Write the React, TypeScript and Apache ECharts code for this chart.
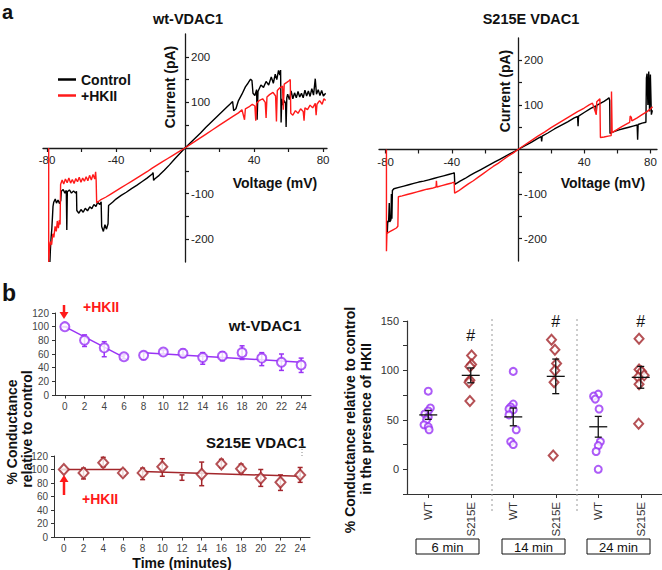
import React, { useEffect, useRef } from 'react';
import * as echarts from 'echarts';

const FONT = '"Liberation Sans", Arial, Helvetica, sans-serif';
const PURPLE = '#9933f5';
const DARKRED = '#a3262b';
const RED = '#ff1a1a';
const AXIS = '#1a1a1a';

// ---------- Panel a: I–V traces [voltage (mV), current (pA)] ----------
const wtControl = [
  [-78.3,-250],[-78,-222],[-77.6,-196],[-77.2,-178],[-76.8,-150],[-76.5,-128],[-76.1,-119],[-75.2,-112],[-74.5,-121],[-73.6,-114],[-72.7,-122],[-72,-115],
  [-71.7,-95],[-70.6,-91],[-69.6,-99],[-68.8,-93],[-68.5,-180],[-68.2,-96],[-67,-92],[-65.8,-99],[-64.6,-94],[-63.4,-99],[-62.9,-95],
  [-62.7,-137],[-61.5,-143],[-60.3,-135],[-59,-141],[-57.8,-132],[-56.5,-138],[-55.2,-129],[-54,-133],[-52.8,-124],[-51.6,-128],[-50.6,-119],[-49.4,-124],[-48.6,-118],
  [-48.3,-172],[-47.3,-183],[-46.4,-168],[-45.5,-178],[-44.6,-166],[-44.3,-126],[-42,-119],[-40,-112],[-37,-104],[-34,-97],[-31,-89],[-28,-82],[-25,-74],[-22,-66],[-19,-57],[-18.5,-54],
  [-18.2,-71],[-17.6,-68],[-15,-60],[-12,-49],[-9,-37],[-6,-24],[-3,-12],[0,0],[3,11],[6,22],[9,33],[12,45],[15,56],[18,67],[21,78],[24,89],[26,96],[27.6,102],
  [28.2,82],[29.5,86],[31,104],[33,118],[35,134],[36.5,142],[38,151],[38.8,148],[39.4,120],[40.5,115],[41.5,128],[41.8,62],[42.3,124],[44,138],[45.5,133],[47,146],[48.5,138],
  [50,156],[51.2,142],[52.3,162],[53.2,150],[54.2,170],[55,160],[55.4,171],[55.7,56],[56.1,108],[56.6,94],[57.5,104],[58.3,98],[58.6,46],[59,110],[59.5,118],[60.5,106],
  [61.5,125],[62.5,108],[63.5,121],[64.5,110],[65.5,124],[66.5,112],[67.5,120],[68.5,110],[69.5,127],[70.5,114],[71.5,125],[72.5,113],[73.5,130],[74.5,116],[75.5,152],
  [76.2,118],[77.2,128],[78.2,115],[79.2,126],[80.2,114],[81.5,120],
];
const wtHKII = [
  [-79,0],[-79,-250],[-78.6,-222],[-78,-205],[-77.3,-212],[-76.6,-188],[-76,-196],[-75.3,-172],[-74.6,-183],[-74,-160],[-73.4,-176],[-72.8,-158],[-72.4,-168],
  [-72.1,-80],[-71.2,-70],[-70.3,-79],[-69.3,-68],[-68.3,-76],[-67.3,-66],[-66.3,-77],[-65.3,-69],[-64.3,-78],[-63.3,-67],[-62.3,-74],[-61.3,-64],[-60.3,-75],[-59.3,-66],
  [-58.3,-73],[-57.3,-63],[-56.3,-72],[-55.3,-60],[-54.3,-70],[-53.3,-58],[-52.3,-68],[-51.8,-52],[-51.5,-70],[-51.2,-120],[-49,-114],[-46,-108],[-43,-101],[-40,-94],
  [-37,-87],[-34,-80],[-31,-73],[-28,-66],[-25,-59],[-22,-52],[-19,-44],[-16,-37],[-13,-30],[-10,-23],[-7,-16],[-4,-9],[0,0],[4,10],[8,20],[12,30],[16,40],[20,50],
  [24,60],[28,70],[31,77],[33,84],[34.5,62],[35,86],[37,90],[39,96],[40.5,92],[41,60],[41.5,98],[43,104],[45,108],[46.5,100],[47,66],[47.5,112],[49,117],[51,122],
  [52.5,114],[53,58],[53.5,126],[55,132],[56.5,136],[57,84],[57.5,140],[59,144],[60.5,148],[61,150],[61.3,76],[62.5,72],[64,82],[65.5,76],[67,86],[68.5,80],[69,60],
  [69.5,88],[71,84],[72.5,94],[74,88],[75.5,98],[76,72],[76.5,96],[78,104],[79.5,96],[80.5,108],[81.5,104],
];
const s215eControl = [
  [-79,-188],[-78.7,-160],[-78.2,-163],[-77.8,-120],[-77.5,-162],[-76.8,-158],[-76.5,-100],[-76.2,-155],[-75.9,-92],[-75,-88],[-72,-85],[-69,-82],[-66,-79],[-63,-76],
  [-60,-73],[-57,-71],[-54,-68],[-51,-65],[-48,-62],[-45,-59],[-42,-56],[-39,-53],[-38.5,-52],[-38.2,-78],[-35,-71],[-32,-65],[-29,-58],[-26,-52],[-23,-46],[-20,-40],
  [-17,-34],[-14,-28],[-11,-22],[-8,-16],[-5,-10],[-2,-4],[0,0],[4,8],[8,16],[12,25],[14,29],[14.3,18],[14.6,30],[18,37],[22,46],[26,54],[30,62],[34,71],[36,74],
  [36.3,52],[36.6,75],[40,83],[44,92],[47,98],[47.3,85],[47.6,99],[50,104],[52,108],[54,113],[55,116],[55.4,110],[55.6,36],[58,40],[61,44],[64,47],[67,50],[70,53],
  [72,55],[72.3,22],[72.6,56],[75,59],[77.3,61],[77.6,160],[78,170],[78.5,100],[79,175],[79.5,85],[80,168],[80.6,78],[81.2,88],
];
const s215eHKII = [
  [-79.5,0],[-79.5,-228],[-79.2,-188],[-77.5,-184],[-75.5,-180],[-73.5,-176],[-72.6,-172],[-72.3,-106],[-70,-104],[-67,-101],[-64,-98],[-61,-95],[-58,-92],[-55,-89],
  [-52,-87],[-49.5,-84],[-49.3,-70],[-49,-84],[-46,-81],[-43,-78],[-40,-75],[-38.6,-73],[-38.3,-98],[-36,-93],[-33,-85],[-30,-77],[-27,-70],[-24,-62],[-21,-54],
  [-18,-46],[-15,-38],[-12,-31],[-9,-23],[-6,-15],[-3,-8],[0,0],[4,10],[8,20],[12,30],[16,39],[20,49],[24,58],[28,67],[32,76],[36,85],[40,93],[43,100],[45,104],
  [47.3,78],[47.6,107],[49.5,114],[49.8,27],[52,28],[54.5,30],[56.3,31],[56.5,130],[56.9,38],[60,45],[63,52],[66,58],[67.5,61],[67.8,75],[68.5,72],[68.8,64],
  [72,71],[75,78],[78,85],[80,91],[81.3,96],
];
const ivXLabels = [-80, -40, 40, 80];
const ivXTicks = [-80, -60, -40, -20, 20, 40, 60, 80];
const ivYLabels = [-200, -100, 100, 200];
const ivYTicks = [-200, -150, -100, -50, 50, 100, 150, 200];

// ---------- Panel b (left): time courses ----------
const times = [0, 2, 4, 6, 8, 10, 12, 14, 16, 18, 20, 22, 24];
const timeTicks = [0, 2, 4, 6, 8, 10, 12, 14, 16, 18, 20, 22, 24];
const wtMean = [100, 80, 69, 56, 58, 63, 61, 55, 57, 62, 54, 48, 44];
const wtLow = [100, 71, 56, 53, 52, 60, 55, 45, 50, 52, 43, 36, 33];
const wtHigh = [100, 88, 78, 59, 63, 66, 67, 62, 63, 72, 62, 60, 54];
const wtFit1 = [[0, 100], [6, 55]];
const wtFit2 = [[8, 62], [24, 48]];
const s215eMean = [100, 95, 110, 95, 95, 104, null, 93, 108, 101, 87, 81, 92];
const s215eLow = [100, 86, 104, 91, 85, 90, 84, 76, 103, 95, 75, 69, 81];
const s215eHigh = [100, 102, 118, 100, 102, 116, 92, 111, 115, 108, 100, 92, 103];
const s215eFit1 = [[0, 100], [6, 100]];
const s215eFit2 = [[8, 97], [24, 90]];

// ---------- Panel b (right): conductance in presence of HKII ----------
const groups = ['WT', 'S215E', 'WT', 'S215E', 'WT', 'S215E'];
const wt6 = [79, 62, 59, 56, 53, 50, 45, 43, 40];
const wt6Jit = [0, 0.05, 0, -0.08, 0, -0.04, -0.1, 0, 0.02];
const s6 = [115, 106, 104, 90, 88, 69];
const s6Jit = [0.02, 0.02, -0.02, -0.02, -0.04, -0.02];
const wt14 = [99, 66, 63, 61, 60, 55, 40, 28, 25];
const wt14Jit = [0, 0, -0.06, -0.1, 0, -0.1, 0.07, -0.06, 0];
const s14 = [131, 121, 107, 100, 88, 14];
const s14Jit = [-0.1, -0.02, 0.02, -0.02, -0.04, -0.06];
const wt24 = [76, 74, 71, 61, 28, 24, 18, 0];
const wt24Jit = [0, -0.11, -0.07, 0.02, 0.05, 0, -0.05, 0];
const s24 = [132, 101, 99, 95, 93, 86, 46];
const s24Jit = [-0.04, -0.04, 0.02, 0.08, -0.06, -0.04, -0.05];
const groupMeans = [55, 95, 53, 94, 43, 93];
const groupSems = [4.5, 7.5, 9, 17.5, 10.5, 11];
const hashGroups = [1, 3, 5];
const hashValues = [135, 150, 150];
const separators = [1.5, 3.5];
const scatterYLabels = [0, 50, 100, 150];
const scatterYTicks = [-25, 0, 25, 50, 75, 100, 125, 150];
const timeBoxes = ['6 min', '14 min', '24 min'];

function errorBars(axis: number, data: number[][], color: string, cap: number, width: number) {
  return {
    type: 'custom', xAxisIndex: axis, yAxisIndex: axis, data, z: 3, silent: true,
    renderItem: (params: any, api: any) => {
      const x = api.value(0);
      const a = api.coord([x, api.value(1)]);
      const b = api.coord([x, api.value(2)]);
      const style = { stroke: color, lineWidth: width, fill: 'none' };
      return {
        type: 'group', children: [
          { type: 'line', shape: { x1: a[0], y1: a[1], x2: b[0], y2: b[1] }, style },
          { type: 'line', shape: { x1: a[0] - cap, y1: a[1], x2: a[0] + cap, y2: a[1] }, style },
          { type: 'line', shape: { x1: b[0] - cap, y1: b[1], x2: b[0] + cap, y2: b[1] }, style },
        ],
      };
    },
  };
}

// I–V axes are moved onto the zero lines with a negative offset from the grid edge
function ivX(gi: number, r: number, offset: number) {
  return {
    type: 'value', gridIndex: gi, min: -r, max: r, position: 'bottom', offset,
    axisLine: { show: true, onZero: false, lineStyle: { color: AXIS, width: 1.3 } },
    axisTick: { show: true, customValues: ivXTicks, length: 4, lineStyle: { color: AXIS, width: 1.2 } },
    axisLabel: { customValues: ivXLabels, margin: 6, fontFamily: FONT, fontSize: 11.5, color: '#222' },
    splitLine: { show: false },
  };
}
function ivY(gi: number, offset: number) {
  return {
    type: 'value', gridIndex: gi, min: -250, max: 250, position: 'left', offset,
    axisLine: { show: true, onZero: false, lineStyle: { color: AXIS, width: 1.3 } },
    axisTick: { show: true, inside: true, customValues: ivYTicks, length: 4, lineStyle: { color: AXIS, width: 1.2 } },
    axisLabel: { inside: true, customValues: ivYLabels, margin: 6, fontFamily: FONT, fontSize: 11.5, color: '#222' },
    splitLine: { show: false },
  };
}
function timeX(gi: number) {
  return {
    type: 'value', gridIndex: gi, min: -1, max: 25,
    axisLine: { show: true, onZero: false, lineStyle: { color: '#333', width: 1 } },
    axisTick: { show: true, customValues: timeTicks, length: 3.5, lineStyle: { color: '#333' } },
    axisLabel: { customValues: timeTicks, margin: 6, fontFamily: FONT, fontSize: 10, color: '#444' },
    splitLine: { show: false },
  };
}
function timeY(gi: number) {
  return {
    type: 'value', gridIndex: gi, min: 0, max: 120, interval: 20,
    axisLine: { show: true, onZero: false, lineStyle: { color: '#333', width: 1 } },
    axisTick: { show: true, length: 3, lineStyle: { color: '#333' } },
    axisLabel: { margin: 6, fontFamily: FONT, fontSize: 10, color: '#444' },
    splitLine: { show: false },
  };
}

function trace(name: string, axis: number, data: number[][], color: string) {
  return {
    type: 'line', name, xAxisIndex: axis, yAxisIndex: axis, data, showSymbol: false, symbol: 'none',
    itemStyle: { color }, lineStyle: { color, width: 1.4 }, silent: true,
  };
}
function fitLine(axis: number, data: number[][], color: string) {
  return {
    type: 'line', xAxisIndex: axis, yAxisIndex: axis, data, showSymbol: false, symbol: 'none',
    itemStyle: { color }, lineStyle: { color, width: 1.5 }, silent: true, z: 2,
  };
}
function groupScatter(values: number[], jit: number[], gi: number, symbol: string, size: any, color: string) {
  return {
    type: 'scatter', xAxisIndex: 4, yAxisIndex: 4, symbol, symbolSize: size, z: 4,
    data: values.map((v, i) => [gi + jit[i], v]),
    itemStyle: { color, borderColor: color, borderWidth: 1.4 }, silent: true,
  };
}

function txt(text: string, x: number, y: number, size: number, opts: any = {}) {
  return {
    type: 'text', x, y, rotation: opts.rot || 0,
    style: {
      text, fill: opts.color || '#111', font: `${opts.weight || 'bold'} ${size}px ${FONT}`,
      textAlign: opts.align || 'center', textVerticalAlign: 'middle',
    },
  };
}

function buildOption() {
  const graphics: any[] = [
    txt('a', 2, 12, 20, { align: 'left' }),
    txt('wt-VDAC1', 188, 19, 14.5),
    txt('S215E VDAC1', 531, 19, 14.5),
    txt('Current (pA)', 170, 87, 14, { rot: Math.PI / 2 }),
    txt('Current (pA)', 505, 91, 14, { rot: Math.PI / 2 }),
    txt('Voltage (mV)', 275, 183, 14),
    txt('Voltage (mV)', 603, 183, 14),
    txt('b', 2, 293, 23, { align: 'left' }),
    txt('+HKII', 83, 307, 14, { align: 'left', color: RED }),
    txt('wt-VDAC1', 265, 325, 15),
    txt('S215E VDAC1', 256, 442, 15),
    txt('+HKII', 82, 499, 14, { align: 'left', color: RED }),
    txt('Time (minutes)', 182, 563, 14),
    txt('% Conductance', 12, 432, 14, { rot: Math.PI / 2 }),
    txt('relative to control', 27, 429, 14, { rot: Math.PI / 2 }),
    txt('% Conductance relative to control', 350, 420, 14, { rot: Math.PI / 2 }),
    txt('in the presence of HKII', 366, 419, 14, { rot: Math.PI / 2 }),
    // arrows
    { type: 'line', shape: { x1: 64, y1: 305, x2: 64, y2: 314 }, style: { stroke: RED, lineWidth: 2.5 } },
    { type: 'polygon', shape: { points: [[59.5, 312], [68.5, 312], [64, 319]] }, style: { fill: RED } },
    { type: 'line', shape: { x1: 64, y1: 495, x2: 64, y2: 481 }, style: { stroke: RED, lineWidth: 2.5 } },
    { type: 'polygon', shape: { points: [[59.5, 482], [68.5, 482], [64, 475]] }, style: { fill: RED } },
    { type: 'line', shape: { x1: 302, y1: 446, x2: 302, y2: 458 }, style: { stroke: '#888', lineWidth: 1, lineDash: [1, 2] } },
  ];
  const boxX = [416, 502, 587];
  timeBoxes.forEach((label, i) => {
    graphics.push({ type: 'rect', shape: { x: boxX[i], y: 539, width: 63, height: 15 }, style: { fill: '#fff', stroke: '#111', lineWidth: 1 } });
    graphics.push(txt(label, boxX[i] + 31.5, 547, 13, { weight: 'normal', color: '#111' }));
  });

  return {
    animation: false,
    backgroundColor: '#fff',
    textStyle: { fontFamily: FONT },
    legend: {
      data: ['Control', '+HKII'], orient: 'vertical', left: 53, top: 67, icon: 'rect',
      itemWidth: 18, itemHeight: 2.5, itemGap: 1, selectedMode: false,
      textStyle: { fontFamily: FONT, fontWeight: 'bold', fontSize: 14, lineHeight: 15, color: '#111' },
    },
    grid: [
      { left: 43, top: 34, width: 284, height: 228 },
      { left: 379, top: 38, width: 278, height: 223 },
      { left: 55, top: 313, width: 256, height: 82 },
      { left: 54, top: 456, width: 256, height: 81 },
      { left: 407, top: 321, width: 255, height: 173 },
    ],
    xAxis: [
      ivX(0, 82.3, -114), ivX(1, 84, -111.5), timeX(2), timeX(3),
      {
        type: 'value', gridIndex: 4, min: -0.5, max: 5.5,
        axisLine: { show: true, onZero: false, lineStyle: { color: '#333', width: 1.2 } },
        axisTick: { show: true, customValues: [0, 1, 2, 3, 4, 5], length: 4, lineStyle: { color: '#333' } },
        axisLabel: {
          customValues: [0, 1, 2, 3, 4, 5], formatter: (v: number) => groups[Math.round(v)],
          rotate: 90, margin: 8, fontFamily: FONT, fontSize: 11.5, color: '#333',
        },
        splitLine: { show: false },
      },
    ],
    yAxis: [
      ivY(0, -142), ivY(1, -139), timeY(2), timeY(3),
      {
        type: 'value', gridIndex: 4, min: -25, max: 150,
        axisLine: { show: true, onZero: false, lineStyle: { color: '#333', width: 1.2 } },
        axisTick: { show: true, customValues: scatterYTicks, length: 4, lineStyle: { color: '#333' } },
        axisLabel: { customValues: scatterYLabels, margin: 8, fontFamily: FONT, fontSize: 11, color: '#333' },
        splitLine: { show: false },
      },
    ],
    graphic: { elements: graphics },
    series: [
      trace('Control', 0, wtControl, '#000'),
      trace('+HKII', 0, wtHKII, RED),
      trace('Control', 1, s215eControl, '#000'),
      trace('+HKII', 1, s215eHKII, RED),
      // time courses
      fitLine(2, wtFit1, PURPLE),
      fitLine(2, wtFit2, PURPLE),
      errorBars(2, times.map((t, i) => [t, wtLow[i], wtHigh[i]]), PURPLE, 2.5, 1.5),
      {
        type: 'scatter', xAxisIndex: 2, yAxisIndex: 2, symbol: 'emptyCircle', symbolSize: 9, z: 5,
        data: times.map((t, i) => [t, wtMean[i]]),
        itemStyle: { color: PURPLE, borderColor: PURPLE, borderWidth: 1.5 }, silent: true,
      },
      fitLine(3, s215eFit1, DARKRED),
      fitLine(3, s215eFit2, DARKRED),
      errorBars(3, times.map((t, i) => [t, s215eLow[i], s215eHigh[i]]), DARKRED, 2.5, 1.5),
      {
        type: 'scatter', xAxisIndex: 3, yAxisIndex: 3, symbol: 'emptyDiamond', symbolSize: [10, 11], z: 5,
        data: times.map((t, i) => [t, s215eMean[i]]).filter((d) => d[1] !== null),
        itemStyle: { color: DARKRED, borderColor: DARKRED, borderWidth: 1.5 }, silent: true,
      },
      // scatter panel
      {
        type: 'custom', xAxisIndex: 4, yAxisIndex: 4, data: separators.map((s) => [s, 0]), clip: false, z: 1, silent: true,
        renderItem: (params: any, api: any) => {
          const top = api.coord([api.value(0), 152]);
          const bot = api.coord([api.value(0), -44]);
          return { type: 'line', shape: { x1: top[0], y1: top[1], x2: bot[0], y2: bot[1] }, style: { stroke: '#999', lineWidth: 1, lineDash: [2, 3] } };
        },
      },
      groupScatter(wt6, wt6Jit, 0, 'emptyCircle', 7, PURPLE),
      groupScatter(s6, s6Jit, 1, 'emptyDiamond', [9, 10], DARKRED),
      groupScatter(wt14, wt14Jit, 2, 'emptyCircle', 7, PURPLE),
      groupScatter(s14, s14Jit, 3, 'emptyDiamond', [9, 10], DARKRED),
      groupScatter(wt24, wt24Jit, 4, 'emptyCircle', 7, PURPLE),
      groupScatter(s24, s24Jit, 5, 'emptyDiamond', [9, 10], DARKRED),
      {
        type: 'custom', xAxisIndex: 4, yAxisIndex: 4, z: 6, silent: true,
        data: groupMeans.map((m, i) => [i, m, groupSems[i]]),
        renderItem: (params: any, api: any) => {
          const x = api.value(0), m = api.value(1), s = api.value(2);
          const c = api.coord([x, m]);
          const lo = api.coord([x, m - s]);
          const hi = api.coord([x, m + s]);
          const style = { stroke: '#111', lineWidth: 1.3 };
          return {
            type: 'group', children: [
              { type: 'line', shape: { x1: c[0] - 9, y1: c[1], x2: c[0] + 9, y2: c[1] }, style },
              { type: 'line', shape: { x1: lo[0], y1: lo[1], x2: hi[0], y2: hi[1] }, style },
              { type: 'line', shape: { x1: lo[0] - 3.5, y1: lo[1], x2: lo[0] + 3.5, y2: lo[1] }, style },
              { type: 'line', shape: { x1: hi[0] - 3.5, y1: hi[1], x2: hi[0] + 3.5, y2: hi[1] }, style },
            ],
          };
        },
      },
      {
        type: 'custom', xAxisIndex: 4, yAxisIndex: 4, z: 6, silent: true, clip: false,
        data: hashGroups.map((g, i) => [g, hashValues[i]]),
        renderItem: (params: any, api: any) => {
          const p = api.coord([api.value(0), api.value(1)]);
          return {
            type: 'text', x: p[0], y: p[1],
            style: { text: '#', fill: '#111', font: `16px ${FONT}`, textAlign: 'center', textVerticalAlign: 'middle' },
          };
        },
      },
    ],
  };
}

export default function App() {
  const ref = useRef<HTMLDivElement>(null);
  useEffect(() => {
    const chart = echarts.init(ref.current as HTMLDivElement, undefined, { renderer: 'svg' });
    chart.setOption(buildOption() as any);
    return () => chart.dispose();
  }, []);
  return (
    <div
      ref={ref}
      style={{ position: 'absolute', left: 0, top: 0, width: 662, height: 570, background: '#fff' }}
    />
  );
}
